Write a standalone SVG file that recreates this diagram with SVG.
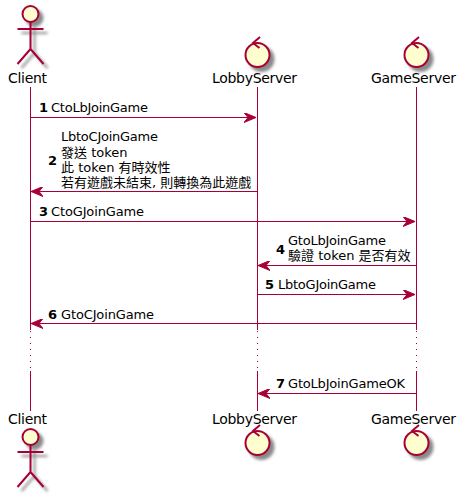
<svg xmlns="http://www.w3.org/2000/svg" width="467" height="497" viewBox="0 0 467 497">
<style>
text{font-family:"DejaVu Sans","Noto Sans CJK TC",sans-serif;fill:#000}
.p{font-size:14px}
.m{font-size:13px}
.n{font-size:13px;font-weight:bold}
.life{stroke:#A80036;stroke-width:1;fill:none}
.dot{stroke:#A80036;stroke-width:1;fill:none;stroke-dasharray:1,5}
.msg{stroke:#A80036;stroke-width:1;fill:none}
.shape{fill:#FEFECE;stroke:#A80036;stroke-width:2}
.stick{fill:none;stroke:#A80036;stroke-width:2}
.sc{fill:#8a8a8a;stroke:#8a8a8a;stroke-width:2;filter:url(#sh)}
.ss{fill:none;stroke:#8a8a8a;stroke-width:2;filter:url(#sh)}
</style>
<defs>
<filter id="sh" filterUnits="userSpaceOnUse" x="0" y="0" width="467" height="497"><feGaussianBlur stdDeviation="1.5"/></filter>
<marker id="ar" viewBox="0 0 13 10" refX="12" refY="5" markerWidth="13" markerHeight="10" markerUnits="userSpaceOnUse" orient="auto-start-reverse"><path d="M0,0L12,5L0,10L4,5Z" fill="#A80036" stroke="#A80036"/></marker>
</defs>
<g id="lifelines">
<path class="life" d="M30.5,87V330M30.5,371V411M257.5,87V330M257.5,371V411M416.5,87V330M416.5,371V411"/>
<path class="dot" d="M30.5,331V371M257.5,331V371M416.5,331V371"/>
</g>
<g id="connectors">
<line class="msg" x1="31" y1="117.5" x2="256" y2="117.5" marker-end="url(#ar)"/>
<line class="msg" x1="257" y1="191.5" x2="31" y2="191.5" marker-end="url(#ar)"/>
<line class="msg" x1="31" y1="221.5" x2="415" y2="221.5" marker-end="url(#ar)"/>
<line class="msg" x1="416" y1="265.5" x2="258" y2="265.5" marker-end="url(#ar)"/>
<line class="msg" x1="258" y1="294.5" x2="415" y2="294.5" marker-end="url(#ar)"/>
<line class="msg" x1="416" y1="323.5" x2="31" y2="323.5" marker-end="url(#ar)"/>
<line class="msg" x1="416" y1="393.5" x2="258" y2="393.5" marker-end="url(#ar)"/>
</g>
<g id="labels">
<text class="n" x="39" y="112">1</text><text class="m" x="51" y="112" textLength="97">CtoLbJoinGame</text>
<text class="n" x="48" y="165">2</text>
<text class="m" x="61" y="141" textLength="97">LbtoCJoinGame</text>
<text class="m" x="61" y="157">發送 token</text>
<text class="m" x="61" y="172">此 token 有時效性</text>
<text class="m" x="61" y="187">若有遊戲未結束, 則轉換為此遊戲</text>
<text class="n" x="39" y="216">3</text><text class="m" x="51" y="216" textLength="93">CtoGJoinGame</text>
<text class="n" x="276" y="254">4</text>
<text class="m" x="288" y="245" textLength="98">GtoLbJoinGame</text>
<text class="m" x="288" y="260">驗證 token 是否有效</text>
<text class="n" x="265" y="289">5</text><text class="m" x="278" y="289" textLength="98">LbtoGJoinGame</text>
<text class="n" x="48" y="319">6</text><text class="m" x="61" y="319" textLength="93">GtoCJoinGame</text>
<text class="n" x="276" y="388">7</text><text class="m" x="288" y="388" textLength="117">GtoLbJoinGameOK</text>
</g>
<g id="client-top">
<circle class="sc" cx="34.5" cy="18" r="8"/><path class="ss" d="M34.5,26V53M21.5,33H47.5M34.5,53L21.5,68M34.5,53L47.5,68"/>
<circle class="shape" cx="30.5" cy="14" r="8"/><path class="stick" d="M30.5,22V49M17.5,29H43.5M30.5,49L17.5,64M30.5,49L43.5,64"/>
<text class="p" x="8" y="83" textLength="39">Client</text></g>
<g id="lobby-top">
<circle class="sc" cx="261.5" cy="59" r="12"/>
<circle class="shape" cx="257.5" cy="55" r="12"/><path class="stick" d="M260,37L253,43L259.5,48"/>
<text class="p" x="212" y="83" textLength="85">LobbyServer</text></g>
<g id="game-top">
<circle class="sc" cx="420.5" cy="59" r="12"/>
<circle class="shape" cx="416.5" cy="55" r="12"/><path class="stick" d="M419,37L412,43L418.5,48"/>
<text class="p" x="371" y="83" textLength="85">GameServer</text></g>
<g id="client-bottom"><text class="p" x="8" y="424" textLength="39">Client</text>
<circle class="sc" cx="34.5" cy="441" r="8"/><path class="ss" d="M34.5,449V476M21.5,456H47.5M34.5,476L21.5,491M34.5,476L47.5,491"/>
<circle class="shape" cx="30.5" cy="437" r="8"/><path class="stick" d="M30.5,445V472M17.5,452H43.5M30.5,472L17.5,487M30.5,472L43.5,487"/></g>
<g id="lobby-bottom"><text class="p" x="212" y="424" textLength="85">LobbyServer</text>
<circle class="sc" cx="261.5" cy="447" r="12"/>
<circle class="shape" cx="257.5" cy="443" r="12"/><path class="stick" d="M260,425L253,431L259.5,436"/></g>
<g id="game-bottom"><text class="p" x="371" y="424" textLength="85">GameServer</text>
<circle class="sc" cx="420.5" cy="447" r="12"/>
<circle class="shape" cx="416.5" cy="443" r="12"/><path class="stick" d="M419,425L412,431L418.5,436"/></g>
</svg>
